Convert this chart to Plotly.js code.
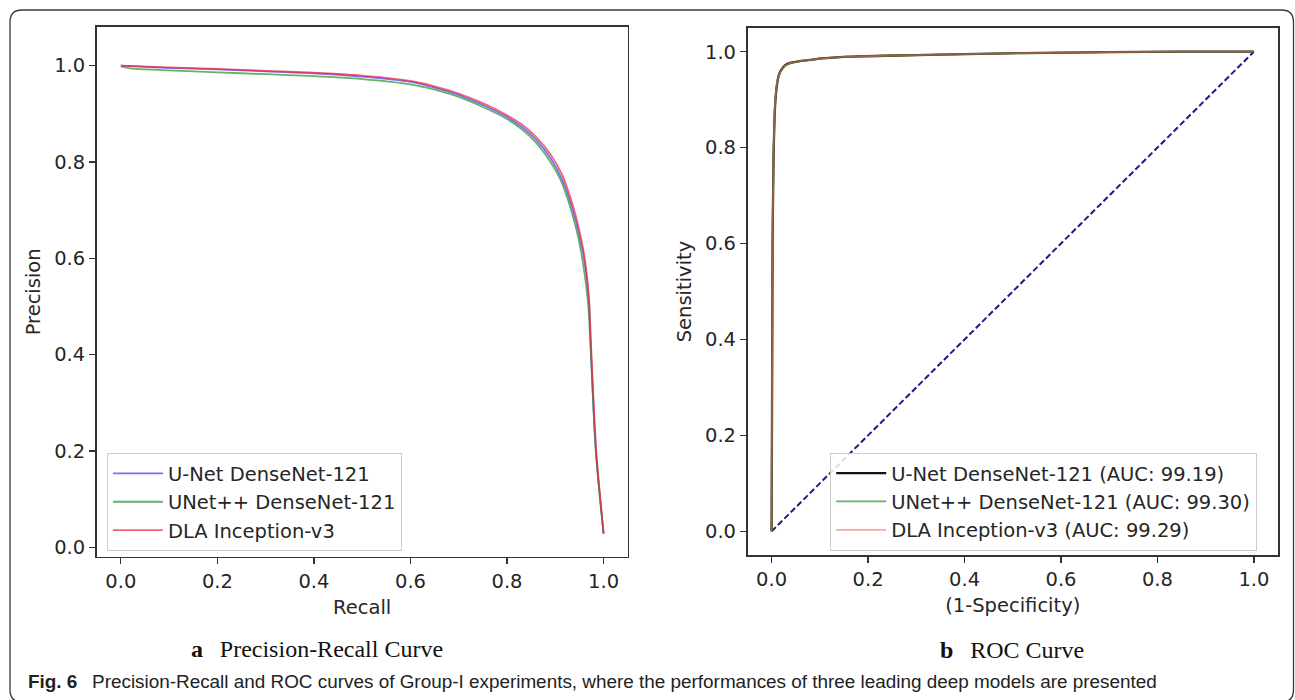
<!DOCTYPE html>
<html>
<head>
<meta charset="utf-8">
<script src="https://cdn.plot.ly/plotly-3.0.1.min.js"></script>
<style>
html,body{margin:0;padding:0;background:#fff;}
#chart{width:1295px;height:700px;}
</style>
</head>
<body>
<div id="chart"></div>
<script>
// ---------- DATA ----------
const seriesNamesPR = ["U-Net DenseNet-121", "UNet++ DenseNet-121", "DLA Inception-v3"];
const seriesNamesROC = ["U-Net DenseNet-121 (AUC: 99.19)", "UNet++ DenseNet-121 (AUC: 99.30)", "DLA Inception-v3 (AUC: 99.29)"];

// Precision-Recall curves
const unetRecall    = [0, 0.1, 0.2, 0.3, 0.4, 0.5, 0.6, 0.65, 0.7, 0.75, 0.8, 0.83, 0.86, 0.89, 0.915, 0.93, 0.942, 0.951, 0.959, 0.965, 0.970, 0.974, 0.984, 1.0];
const unetPrecision = [1.0, 0.995, 0.992, 0.988, 0.984, 0.977, 0.966, 0.954, 0.939, 0.918, 0.893, 0.873, 0.846, 0.808, 0.762, 0.720, 0.680, 0.642, 0.603, 0.560, 0.505, 0.40, 0.20, 0.028];

const unetppRecall    = [0, 0.02, 0.1, 0.2, 0.3, 0.4, 0.5, 0.6, 0.65, 0.7, 0.75, 0.8, 0.83, 0.86, 0.89, 0.91, 0.925, 0.937, 0.946, 0.954, 0.961, 0.968, 0.974, 0.984, 1.0];
const unetppPrecision = [0.998, 0.994, 0.990, 0.986, 0.982, 0.978, 0.972, 0.961, 0.950, 0.935, 0.914, 0.889, 0.868, 0.840, 0.800, 0.765, 0.725, 0.685, 0.650, 0.610, 0.565, 0.505, 0.40, 0.20, 0.029];

const dlaRecall    = [0, 0.1, 0.2, 0.3, 0.4, 0.5, 0.6, 0.65, 0.7, 0.75, 0.8, 0.83, 0.86, 0.89, 0.915, 0.93, 0.942, 0.951, 0.959, 0.965, 0.970, 0.975, 0.985, 1.0];
const dlaPrecision = [1.0, 0.996, 0.993, 0.989, 0.985, 0.979, 0.968, 0.957, 0.942, 0.922, 0.897, 0.878, 0.852, 0.816, 0.772, 0.730, 0.690, 0.652, 0.612, 0.569, 0.515, 0.40, 0.20, 0.029];

// ROC curves
const unetFPR = [0, 0.001, 0.002, 0.004, 0.006, 0.008, 0.011, 0.015, 0.02, 0.028, 0.04, 0.056, 0.08, 0.104, 0.15, 0.215, 0.3, 0.4, 0.52, 0.7, 0.85, 1.0];
const unetTPR = [0, 0.30, 0.60, 0.78, 0.86, 0.90, 0.93, 0.951, 0.962, 0.972, 0.977, 0.980, 0.983, 0.986, 0.989, 0.991, 0.993, 0.995, 0.997, 0.999, 1.0, 1.0];

const unetppFPR = [0, 0.001, 0.002, 0.004, 0.006, 0.008, 0.011, 0.015, 0.02, 0.028, 0.04, 0.056, 0.08, 0.104, 0.15, 0.215, 0.3, 0.4, 0.52, 0.7, 0.85, 1.0];
const unetppTPR = [0, 0.32, 0.62, 0.79, 0.865, 0.905, 0.935, 0.950, 0.960, 0.970, 0.976, 0.980, 0.983, 0.986, 0.989, 0.991, 0.993, 0.995, 0.997, 0.999, 1.0, 1.0];

const dlaFPR = [0, 0.001, 0.002, 0.004, 0.006, 0.008, 0.011, 0.015, 0.02, 0.028, 0.04, 0.056, 0.08, 0.104, 0.15, 0.215, 0.3, 0.4, 0.52, 0.7, 0.85, 1.0];
const dlaTPR = [0, 0.31, 0.61, 0.785, 0.862, 0.902, 0.932, 0.951, 0.962, 0.971, 0.977, 0.980, 0.983, 0.986, 0.989, 0.991, 0.993, 0.995, 0.997, 0.999, 1.0, 1.0];

const chanceX = [0, 1];
const chanceY = [0, 1];

const tickValues = [0, 0.2, 0.4, 0.6, 0.8, 1.0];
const tickLabels = ["0.0", "0.2", "0.4", "0.6", "0.8", "1.0"];

// ---------- LAYOUT HELPERS ----------
const W = 1295, H = 700;
const px = x => x / W;
const py = y => 1 - y / H;

const tickFont = {family: "DejaVu Sans", size: 19.5, color: "#262626"};
const titleFont = {family: "DejaVu Sans", size: 19.5, color: "#262626"};
const frameColor = "#333333";

function axisStyle(extra) {
  return Object.assign({
    showline: true, mirror: true, linecolor: frameColor, linewidth: 1.6,
    ticks: "outside", ticklen: 6, tickwidth: 1.3, tickcolor: frameColor,
    tickvals: tickValues, ticktext: tickLabels,
    tickfont: tickFont, showgrid: false, zeroline: false,
    automargin: false, fixedrange: true
  }, extra);
}

const prLine = (color) => ({color: color, width: 1.8, shape: "spline", smoothing: 0.8});
const rocLine = (color, w) => ({color: color, width: w, shape: "spline", smoothing: 0.4});

const traces = [
  {x: unetRecall, y: unetPrecision, name: seriesNamesPR[0], type: "scatter", mode: "lines",
   line: prLine("rgba(60,60,255,0.72)"), xaxis: "x", yaxis: "y", legend: "legend"},
  {x: unetppRecall, y: unetppPrecision, name: seriesNamesPR[1], type: "scatter", mode: "lines",
   line: prLine("rgba(40,150,40,0.72)"), xaxis: "x", yaxis: "y", legend: "legend"},
  {x: dlaRecall, y: dlaPrecision, name: seriesNamesPR[2], type: "scatter", mode: "lines",
   line: prLine("rgba(245,40,60,0.72)"), xaxis: "x", yaxis: "y", legend: "legend"},

  {x: chanceX, y: chanceY, type: "scatter", mode: "lines", showlegend: false,
   line: {color: "#1a1a8c", width: 2, dash: "6px,3px"}, xaxis: "x2", yaxis: "y2"},
  {x: unetFPR, y: unetTPR, name: seriesNamesROC[0], type: "scatter", mode: "lines",
   line: rocLine("#111111", 2.3), xaxis: "x2", yaxis: "y2", legend: "legend2"},
  {x: unetppFPR, y: unetppTPR, name: seriesNamesROC[1], type: "scatter", mode: "lines",
   line: rocLine("rgba(40,150,40,0.72)", 1.8), xaxis: "x2", yaxis: "y2", legend: "legend2"},
  {x: dlaFPR, y: dlaTPR, name: seriesNamesROC[2], type: "scatter", mode: "lines",
   line: rocLine("rgba(255,90,90,0.55)", 1.8), xaxis: "x2", yaxis: "y2", legend: "legend2"}
];

const r = 12;
const bx0 = 10, by0 = 10, bx1 = 1293.5, by1 = 702;
const borderPath =
  `M ${px(bx0 + r)},${py(by0)} L ${px(bx1 - r)},${py(by0)} Q ${px(bx1)},${py(by0)} ${px(bx1)},${py(by0 + r)} ` +
  `L ${px(bx1)},${py(by1 - r)} Q ${px(bx1)},${py(by1)} ${px(bx1 - r)},${py(by1)} ` +
  `L ${px(bx0 + r)},${py(by1)} Q ${px(bx0)},${py(by1)} ${px(bx0)},${py(by1 - r)} ` +
  `L ${px(bx0)},${py(by0 + r)} Q ${px(bx0)},${py(by0)} ${px(bx0 + r)},${py(by0)} Z`;

const legendCommon = {
  bgcolor: "rgba(255,255,255,0.85)", bordercolor: "#cccccc", borderwidth: 1.2,
  font: {family: "DejaVu Sans", size: 19.5, color: "#262626"},
  xanchor: "left", yanchor: "top", traceorder: "normal", itemwidth: 50
};

const layout = {
  width: W, height: H,
  margin: {l: 0, r: 0, t: 0, b: 0, pad: 0},
  paper_bgcolor: "#ffffff", plot_bgcolor: "#ffffff",
  showlegend: true,
  xaxis: axisStyle({domain: [px(96.7), px(627.7)], range: [-0.05, 1.05], anchor: "y",
    title: {text: "Recall", font: titleFont, standoff: 8}}),
  yaxis: axisStyle({domain: [py(556.7), py(27)], range: [-0.0195, 1.080], anchor: "x",
    title: {text: "Precision", font: titleFont, standoff: 8}}),
  xaxis2: axisStyle({domain: [px(747.5), px(1278)], range: [-0.05, 1.05], anchor: "y2",
    title: {text: "(1-Specificity)", font: titleFont, standoff: 8}}),
  yaxis2: axisStyle({domain: [py(555.3), py(27.7)], range: [-0.05, 1.05], anchor: "x2",
    title: {text: "Sensitivity", font: titleFont, standoff: 8}}),
  legend: Object.assign({}, legendCommon, {x: px(106.7), y: py(453)}),
  legend2: Object.assign({}, legendCommon, {x: px(830), y: py(452.7)}),
  shapes: [
    {type: "path", xref: "paper", yref: "paper", path: borderPath,
     line: {color: "#3a3a3a", width: 1.3}, fillcolor: "rgba(0,0,0,0)", layer: "below"}
  ],
  annotations: [
    {xref: "paper", yref: "paper", x: px(189), y: py(649), xanchor: "left", yanchor: "middle",
     showarrow: false, text: "<b>a</b>\u2002\u2009Precision-Recall Curve",
     font: {family: "Liberation Serif", size: 24, color: "#111"}},
    {xref: "paper", yref: "paper", x: px(938), y: py(650), xanchor: "left", yanchor: "middle",
     showarrow: false, text: "<b>b</b>\u2002\u2009ROC Curve",
     font: {family: "Liberation Serif", size: 24, color: "#111"}},
    {xref: "paper", yref: "paper", x: px(26), y: py(681), xanchor: "left", yanchor: "middle",
     showarrow: false,
     text: "<b>Fig. 6</b>\u2002 Precision-Recall and ROC curves of Group-I experiments, where the performances of three leading deep models are presented",
     font: {family: "Liberation Sans", size: 18.9, color: "#222"}}
  ]
};

Plotly.newPlot("chart", traces, layout, {displayModeBar: false, staticPlot: true});
</script>
</body>
</html>
